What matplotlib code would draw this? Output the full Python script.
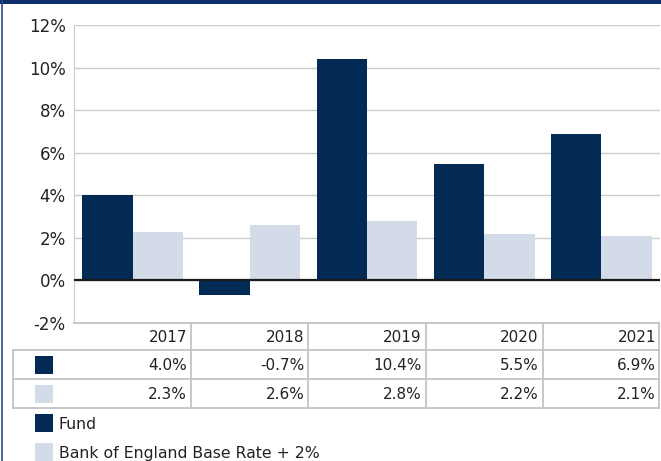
import matplotlib
matplotlib.use("Agg")
import matplotlib.pyplot as plt
from matplotlib.lines import Line2D
from matplotlib.patches import Rectangle
import numpy as np

years = ["2017", "2018", "2019", "2020", "2021"]
fund = [4.0, -0.7, 10.4, 5.5, 6.9]
boe = [2.3, 2.6, 2.8, 2.2, 2.1]
series_names = ["Fund", "Bank of England Base Rate + 2%"]
yticks = [-2, 0, 2, 4, 6, 8, 10, 12]

c_fund = "#022a54"
c_boe = "#d3dbe8"
grid_c = "#cccccc"
txt_c = "#222222"

W, H = 661, 461
fig = plt.figure(figsize=(W / 100, H / 100), dpi=100)
plt.rcParams['font.family'] = ['DejaVu Sans']

def fx(px):
    return px / W

def fy(py):
    return 1 - py / H

# top band and left border
fig.add_artist(Rectangle((0, fy(4)), 1, 4 / H, transform=fig.transFigure,
                         color="#0b2d6b", lw=0))
fig.add_artist(Line2D([fx(1.5), fx(1.5)], [0, 1], transform=fig.transFigure,
                      color="#2a4a8a", lw=1.2))

left_px, right_px = 74, 660
top_px, bot_px = 25.4, 323.0
ax = fig.add_axes([fx(left_px), fy(bot_px), fx(right_px - left_px),
                   (bot_px - top_px) / H])

x = np.arange(len(years))
bw = 0.43
ax.bar(x - bw / 2, fund, width=bw, color=c_fund, zorder=3)
ax.bar(x + bw / 2, boe, width=bw, color=c_boe, zorder=3)
ax.axhline(0, color="#1a1a1a", lw=1.6, zorder=4)

ax.set_xlim(-0.5, len(years) - 0.5)
ax.set_ylim(-2, 12)
ax.set_yticks(yticks)
ax.set_yticklabels([f"{v}%" for v in yticks], fontsize=12, color=txt_c)
ax.tick_params(axis="y", length=0, pad=6)
ax.set_xticks([])
for t in ax.get_yticklabels():
    t.set_ha("right")
ax.yaxis.grid(True, color=grid_c, lw=1, zorder=0)
for s in ["top", "right", "bottom"]:
    ax.spines[s].set_visible(False)
ax.spines["left"].set_color(grid_c)

# data table
cat_w = (right_px - left_px) / len(years)
bounds = [left_px + i * cat_w for i in range(len(years) + 1)]
row_y = [bot_px, 350, 379, 408]
tab_left = 13
lc = "#c4c4c4"

def hline(x0, x1, y):
    fig.add_artist(Line2D([fx(x0), fx(x1)], [fy(y), fy(y)],
                          transform=fig.transFigure, color=lc, lw=1.3))

def vline(xp, y0, y1):
    fig.add_artist(Line2D([fx(xp), fx(xp)], [fy(y0), fy(y1)],
                          transform=fig.transFigure, color=lc, lw=1.3))

hline(left_px, right_px - 1, row_y[0])
for yy in row_y[1:]:
    hline(tab_left, right_px - 1, yy)
vline(tab_left, row_y[1], row_y[3])
for b in bounds[1:]:
    bx = min(b, right_px - 1)
    vline(bx, row_y[0], row_y[3])

fs = 11
for i, yr in enumerate(years):
    rx = bounds[i + 1] - 4
    fig.text(fx(rx), fy((row_y[0] + row_y[1]) / 2 + 1), yr, ha="right",
             va="center", fontsize=fs, color=txt_c)
    fig.text(fx(rx), fy((row_y[1] + row_y[2]) / 2 + 1), f"{fund[i]:.1f}%",
             ha="right", va="center", fontsize=fs, color=txt_c)
    fig.text(fx(rx), fy((row_y[2] + row_y[3]) / 2 + 1), f"{boe[i]:.1f}%",
             ha="right", va="center", fontsize=fs, color=txt_c)

for k, col in enumerate([c_fund, c_boe]):
    yc = (row_y[k + 1] + row_y[k + 2]) / 2
    fig.add_artist(Rectangle((fx(35), fy(yc + 9)), 18 / W, 18 / H,
                             transform=fig.transFigure, color=col, lw=0))

# legend
for k, (col, name) in enumerate(zip([c_fund, c_boe], series_names)):
    yc = 423 + k * 29
    fig.add_artist(Rectangle((fx(35), fy(yc + 9)), 18 / W, 18 / H,
                             transform=fig.transFigure, color=col, lw=0))
    fig.text(fx(59), fy(yc + 1), name, ha="left", va="center",
             fontsize=11.3, color=txt_c)

fig.savefig("out.png", dpi=100)
